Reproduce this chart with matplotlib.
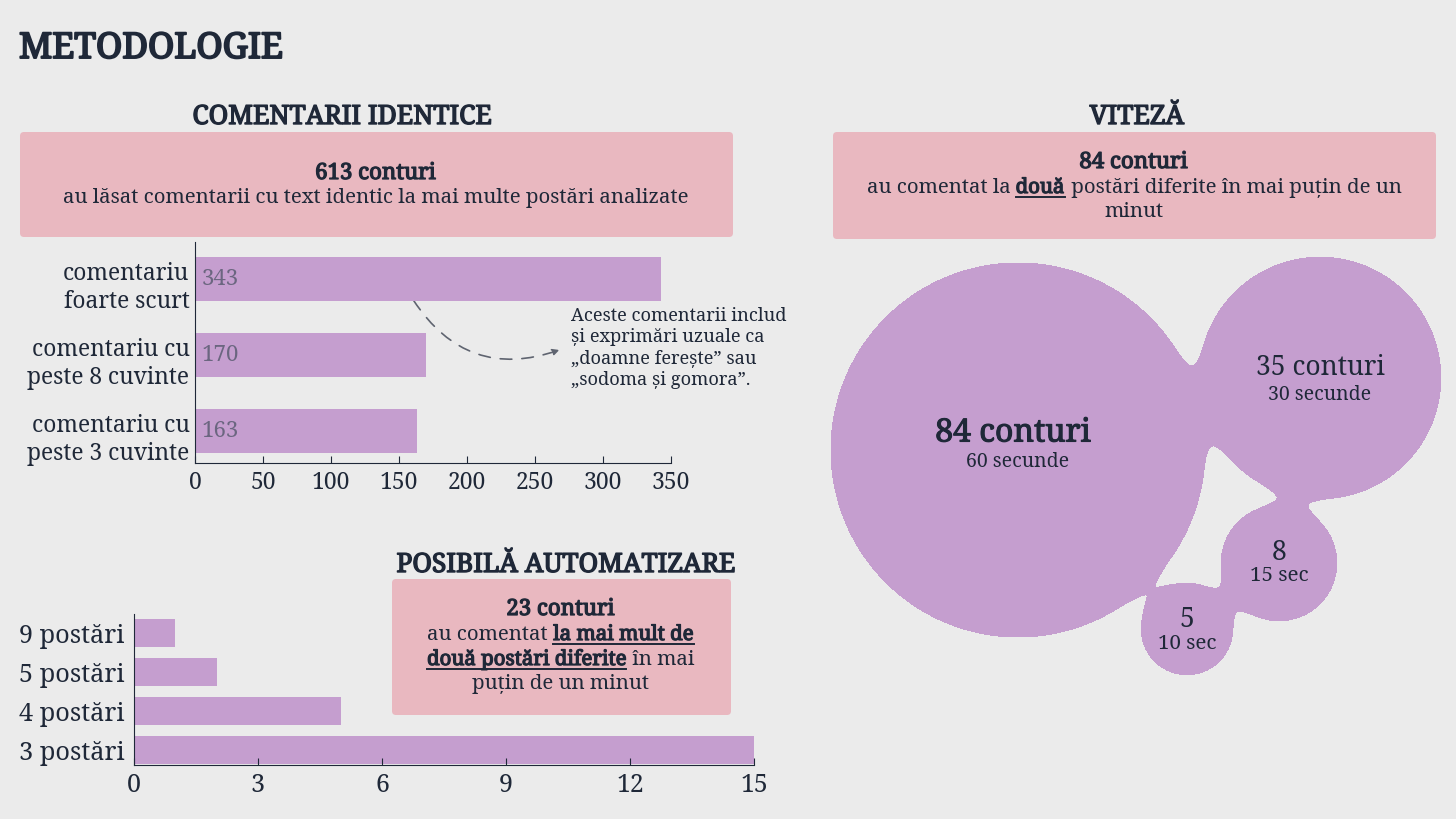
import numpy as np
import matplotlib
matplotlib.use("Agg")
import matplotlib.pyplot as plt
import matplotlib.patheffects as pe
from matplotlib.patches import FancyBboxPatch

plt.rcParams['font.family'] = ['Noto Serif', 'DejaVu Serif']

BG = "#EBEBEB"
PINK = "#E9B8C0"
PURPLE = "#C59ECF"
INK = "#1F2838"

# ── date ────────────────────────────────────────────────────────────────
ident_labels = ["comentariu\nfoarte scurt", "comentariu cu\npeste 8 cuvinte",
                "comentariu cu\npeste 3 cuvinte"]
ident_values = [343, 170, 163]
ident_total = 613

auto_labels = ["9 postări", "5 postări", "4 postări", "3 postări"]
auto_values = [1, 2, 5, 15]
auto_total = 23

speed_counts = [84, 35, 8, 5]
speed_sub = ["60 secunde", "30 secunde", "15 sec", "10 sec"]
speed_total = 84

W, H = 1456, 819
fig = plt.figure(figsize=(W / 100, H / 100), dpi=100, facecolor=BG)
ov = fig.add_axes([0, 0, 1, 1], zorder=0)
ov.set_xlim(0, W)
ov.set_ylim(H, 0)
ov.axis("off")
renderer = fig.canvas.get_renderer()


def bold_fx(lw=1.0):
    # fontul serif instalat nu are varianta bold -> ingrosare cu contur
    return [pe.withStroke(linewidth=lw, foreground=INK)]


def px_axes(x0, y0, x1, y1):
    ax = fig.add_axes([x0 / W, 1 - y1 / H, (x1 - x0) / W, (y1 - y0) / H], zorder=2)
    ax.set_facecolor("none")
    return ax


def text_width(s, size):
    t = ov.text(0, 0, s + "|", fontsize=size)
    t2 = ov.text(0, 0, "|", fontsize=size)
    w = t.get_window_extent(renderer).width - t2.get_window_extent(renderer).width
    t.remove()
    t2.remove()
    return w


def rich_line(xc, y, parts, size):
    # parts: (text, bold, underline)
    widths = [text_width(p[0], size) + (1.0 if p[1] else 0) for p in parts]
    x = xc - sum(widths) / 2
    for (s, bold, ul), w in zip(parts, widths):
        ov.text(x, y, s, fontsize=size, color=INK, ha="left", va="baseline",
                path_effects=bold_fx(0.9) if bold else None)
        if ul:
            wt = text_width(s.rstrip(), size)
            ov.plot([x, x + wt], [y + 4, y + 4], color=INK, lw=1.4)
        x += w


def pink_box(x0, y0, x1, y1):
    ov.add_patch(FancyBboxPatch((x0, y0), x1 - x0, y1 - y0,
                                boxstyle="round,pad=0,rounding_size=4",
                                fc=PINK, ec="none"))


# ── titluri ─────────────────────────────────────────────────────────────
ov.text(19, 58, "METODOLOGIE", fontsize=25.5, color=INK, ha="left",
        va="baseline", path_effects=bold_fx(1.4))
ov.text(342, 124, "COMENTARII IDENTICE", fontsize=19, color=INK,
        ha="center", va="baseline", path_effects=bold_fx(1.0))
ov.text(1137, 124, "VITEZĂ", fontsize=19, color=INK, ha="center",
        va="baseline", path_effects=bold_fx(1.0))
ov.text(566, 572, "POSIBILĂ AUTOMATIZARE", fontsize=19, color=INK,
        ha="center", va="baseline", path_effects=bold_fx(1.0))

# ── casete ──────────────────────────────────────────────────────────────
pink_box(20, 132, 733, 237)
rich_line(376, 179, [(f"{ident_total} conturi", True, False)], 16)
rich_line(376, 203, [("au lăsat comentarii cu text identic la mai multe postări analizate",
                      False, False)], 14.7)

pink_box(833, 132, 1436, 239)
rich_line(1134, 168, [(f"{speed_total} conturi", True, False)], 16)
rich_line(1134, 193, [("au comentat la ", False, False), ("două", True, True),
                      (" postări diferite în mai puțin de un", False, False)], 14.7)
rich_line(1134, 217, [("minut", False, False)], 14.7)

pink_box(392, 579, 731, 715)
rich_line(561, 615, [(f"{auto_total} conturi", True, False)], 16)
rich_line(561, 640, [("au comentat ", False, False), ("la mai mult de", True, True)], 14.7)
rich_line(561, 665, [("două postări diferite", True, True), (" în mai", False, False)], 14.7)
rich_line(561, 689, [("puțin de un minut", False, False)], 14.7)

# ── grafic 1: comentarii identice ───────────────────────────────────────
ax1 = px_axes(195, 242, 671, 463)
y1 = np.arange(len(ident_values))
ax1.barh(y1, ident_values, height=0.58, color=PURPLE)
for i, v in enumerate(ident_values):
    ax1.text(5, i, str(v), va="center", ha="left", fontsize=16, color="#6B6680")
ax1.set_xlim(0, 350)
ax1.set_ylim(2.42, -0.49)
ax1.set_xticks(np.arange(0, 351, 50))
ax1.set_yticks(y1 + 0.05)
ax1.set_yticklabels(ident_labels, linespacing=1.2)
ax1.tick_params(axis="y", length=0, pad=4, labelsize=16.4, labelcolor=INK)
ax1.tick_params(axis="x", length=5, direction="in", pad=6, labelsize=16.5,
                labelcolor=INK, color=INK)
for s in ["top", "right"]:
    ax1.spines[s].set_visible(False)
for s in ["left", "bottom"]:
    ax1.spines[s].set_color(INK)

ov.annotate("", xy=(562, 349), xytext=(412, 298),
            arrowprops=dict(arrowstyle="-|>", color="#5F6470", lw=1.2,
                            linestyle=(0, (7, 6)),
                            connectionstyle="arc3,rad=0.4"))
ov.text(571, 348, "Aceste comentarii includ\nși exprimări uzuale ca\n"
        "„doamne ferește” sau\n„sodoma și gomora”.",
        fontsize=13.1, color=INK, ha="left", va="center", linespacing=1.22)

# ── grafic 2: posibilă automatizare ─────────────────────────────────────
ax2 = px_axes(134, 614, 754, 765)
y2 = np.arange(len(auto_values))
ax2.barh(y2, auto_values, height=0.72, color=PURPLE)
ax2.set_xlim(0, 15)
ax2.set_ylim(3.38, -0.49)
ax2.set_xticks(np.arange(0, 16, 3))
ax2.set_yticks(y2)
ax2.set_yticklabels(auto_labels)
ax2.tick_params(axis="y", length=0, pad=7, labelsize=18.2, labelcolor=INK)
ax2.tick_params(axis="x", length=5, direction="in", pad=6, labelsize=18,
                labelcolor=INK, color=INK)
for s in ["top", "right"]:
    ax2.spines[s].set_visible(False)
for s in ["left", "bottom"]:
    ax2.spines[s].set_color(INK)

# ── viteză: bule unite (metaball) ───────────────────────────────────────
R_MAX = 187
centers_x = [1018, 1320, 1279, 1187]
centers_y = [450, 378, 563, 629]
radii = [R_MAX * np.sqrt(c / max(speed_counts)) for c in speed_counts]

gx, gy = np.meshgrid(np.arange(800, 1456, 1.0), np.arange(230, 700, 1.0))
k = 28.0
field = None
for x0, y0, r in zip(centers_x, centers_y, radii):
    d = np.hypot(gx - x0, gy - y0) - r
    if field is None:
        field = d
    else:
        h = np.clip(k - np.abs(field - d), 0, None) / k
        field = np.minimum(field, d) - h * h * k / 4
ov.contourf(gx, gy, field, levels=[field.min() - 1, 0], colors=[PURPLE])

main_sizes = [23, 19, 19, 19]
sub_sizes = [14, 14, 14.8, 14.8]
main_dx = [-5, 0, 0, 0]
main_dy = [-17, -10, -10, -9]
sub_dy = [12, 17, 13, 15]
for i, c in enumerate(speed_counts):
    lbl = f"{c} conturi" if i < 2 else str(c)
    ov.text(centers_x[i] + main_dx[i], centers_y[i] + main_dy[i], lbl,
            fontsize=main_sizes[i], color=INK, ha="center", va="center",
            path_effects=bold_fx(0.8) if i == 0 else None)
    ov.text(centers_x[i], centers_y[i] + sub_dy[i], speed_sub[i],
            fontsize=sub_sizes[i], color=INK, ha="center", va="center")

fig.savefig("out.png", dpi=100, facecolor=BG)
